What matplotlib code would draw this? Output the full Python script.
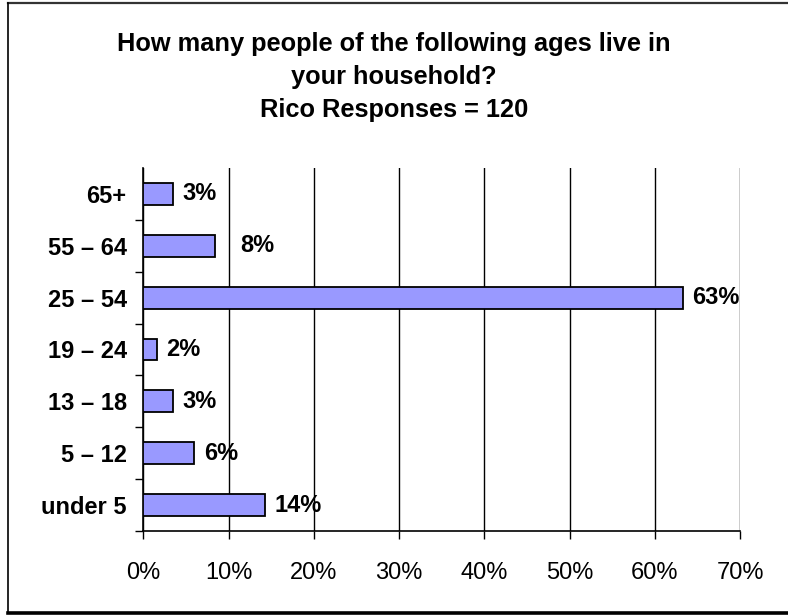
import numpy as np
import matplotlib
matplotlib.use("Agg")
import matplotlib.pyplot as plt
from matplotlib.lines import Line2D

plt.rcParams['font.family'] = ['Liberation Sans', 'DejaVu Sans']

categories = ["under 5", "5 \u2013 12", "13 \u2013 18", "19 \u2013 24", "25 \u2013 54", "55 \u2013 64", "65+"]
values = [14.3, 6.0, 3.45, 1.57, 63.3, 8.4, 3.45]
value_labels = ["14%", "6%", "3%", "2%", "63%", "8%", "3%"]
label_gaps = [7, 7, 7, 7, 7, 18, 7]  # points between bar end and label
xticks = [0, 10, 20, 30, 40, 50, 60, 70]
title = "How many people of the following ages live in\nyour household?\nRico Responses = 120"

fig = plt.figure(figsize=(7.88, 6.15), dpi=100)
ax = fig.add_axes([143.3 / 788, 1 - 531 / 615, (740 - 143.3) / 788, (531 - 168) / 615])

y = np.arange(len(categories))
ax.barh(y, values, height=0.42, color="#9999FF", edgecolor="black", linewidth=1.3, zorder=3)

for yi, v, lab, gap in zip(y, values, value_labels, label_gaps):
    ax.annotate(lab, (v, yi), xytext=(gap, 0), textcoords="offset points",
                ha="left", va="center", fontsize=17, fontweight="bold", zorder=4)

ax.set_xlim(0, 70)
ax.set_ylim(-0.5, len(categories) - 0.5)
ax.set_xticks(xticks)
ax.set_xticklabels([f"{t}%" for t in xticks], fontsize=17)
ax.set_yticks(y)
ax.set_yticklabels(categories, fontsize=17, fontweight="bold")
ax.tick_params(axis="y", which="major", length=0, pad=12)
ax.set_yticks(np.arange(-0.5, len(categories) - 0.5, 1.0), minor=True)
ax.tick_params(axis="y", which="minor", length=6, width=1, color="black", direction="out")
ax.tick_params(axis="x", length=6, width=1, color="black", direction="out", pad=16)

ax.grid(axis="x", color="black", linewidth=1, zorder=0)
ax.set_axisbelow(True)
for s in ["top", "right"]:
    ax.spines[s].set_visible(False)
ax.spines["left"].set_linewidth(1.2)
ax.spines["bottom"].set_linewidth(1.2)

fig.text(0.5, 1 - 77 / 615, title, ha="center", va="center", fontsize=18.3,
         fontweight="bold", linespacing=1.5)

# outer chart frame
fig.add_artist(Line2D([7.5 / 788, 1.0], [1 - 2.5 / 615, 1 - 2.5 / 615], transform=fig.transFigure,
                      color="#333333", linewidth=1.6))
fig.add_artist(Line2D([7.5 / 788, 7.5 / 788], [2 / 615, 1 - 2.5 / 615], transform=fig.transFigure,
                      color="black", linewidth=1.2))
fig.add_artist(Line2D([7.5 / 788, 1.0], [1.8 / 615, 1.8 / 615], transform=fig.transFigure,
                      color="black", linewidth=2.6))

fig.savefig("out.png", dpi=100)
